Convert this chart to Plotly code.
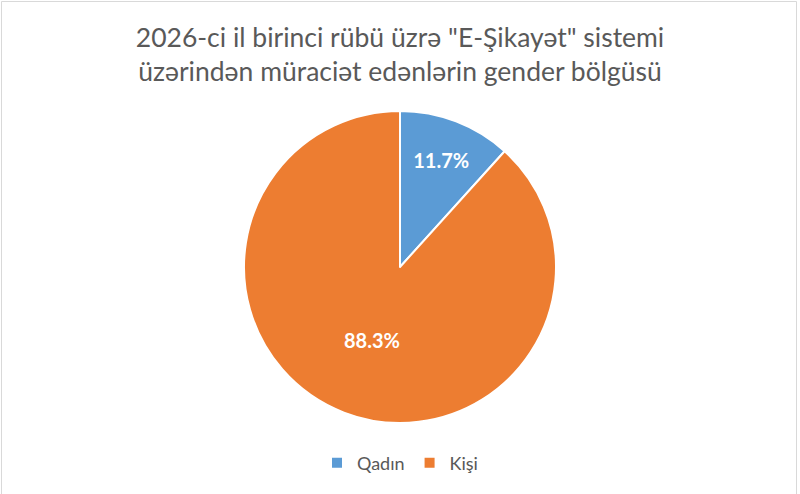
import plotly.graph_objects as go

categories = ["Qadın", "Kişi"]
values = [11.7, 88.3]
colors = ["#5B9BD5", "#ED7D31"]
title_text = "2026-ci il birinci rübü üzrə \"E-Şikayət\" sistemi<br>üzərindən müraciət edənlərin gender bölgüsü"

W, H = 800, 494
mt, mb = 111, 71
ph = H - mt - mb

fig = go.Figure(go.Pie(
    labels=categories,
    values=values,
    sort=False,
    direction="clockwise",
    rotation=0,
    marker=dict(colors=colors, line=dict(color="white", width=2)),
    texttemplate="<b>%{percent:.1%}</b>",
    textposition="inside",
    insidetextorientation="horizontal",
    textfont=dict(color="white", size=20, family="Lato"),
    hoverinfo="label+percent",
))

def py(px):
    return (H - mb - px) / ph

fig.update_layout(
    width=W, height=H,
    margin=dict(l=0, r=0, t=mt, b=mb, autoexpand=False),
    paper_bgcolor="white",
    font=dict(family="Lato", color="#595959"),
    title=dict(text=title_text, x=0.5, xanchor="center", y=1 - 47/H, yanchor="top",
               font=dict(size=26.5, color="#595959", family="Lato")),
    showlegend=True,
    legend=dict(orientation="h", x=0.5, xanchor="center", y=py(463), yanchor="middle",
                font=dict(size=18, color="#595959"), traceorder="normal"),
    shapes=[dict(type="rect", xref="paper", yref="paper",
                 x0=1.5/W, x1=796.5/W, y0=py(510), y1=py(1.5),
                 line=dict(color="#D9D9D9", width=1), fillcolor="rgba(0,0,0,0)")],
)

fig.write_html("out.html", config={"displayModeBar": False},
               post_script="document.body.style.margin='0px';")
